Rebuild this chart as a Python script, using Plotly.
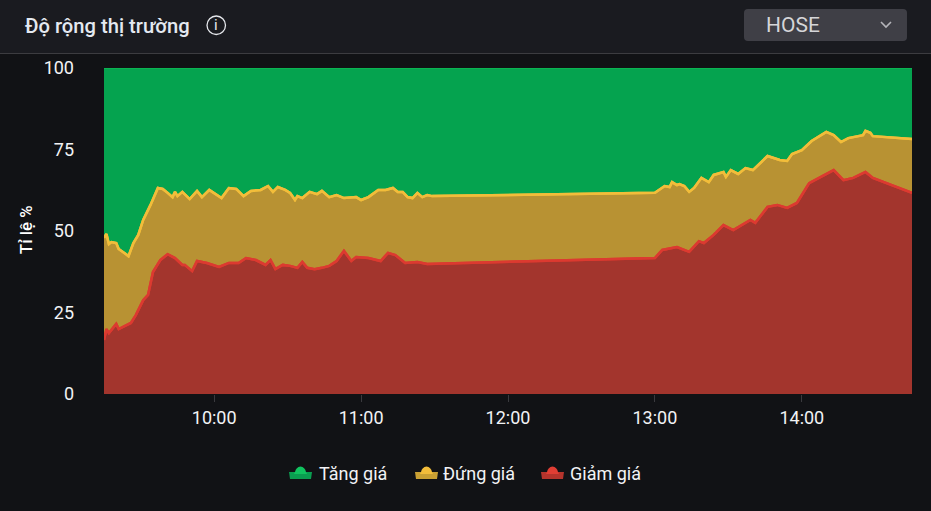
import plotly.graph_objects as go

DAY = "2024-01-02 "
giam_times = ["09:15","09:16","09:17","09:20","09:21","09:23","09:26","09:28","09:31","09:33","09:34","09:35","09:38","09:41","09:44","09:47","09:48","09:51","09:53","09:57","10:02","10:06","10:10","10:13","10:17","10:21","10:23","10:25","10:28","10:31","10:34","10:36","10:38","10:41","10:44","10:47","10:50","10:53","10:56","10:58","11:03","11:08","11:11","11:14","11:18","11:23","11:27","13:00","13:03","13:09","13:14","13:18","13:20","13:24","13:28","13:32","13:39","13:41","13:46","13:50","13:54","13:58","14:03","14:13","14:17","14:21","14:26","14:29","14:45"]
giam_values = [16.6,19.9,18.7,21.5,19.9,20.6,21.8,24.2,28.8,30.4,34.0,37.4,41.1,42.9,41.7,39.6,39.6,37.7,40.8,40.2,39.0,40.2,40.2,41.7,41.1,39.6,41.1,38.3,39.6,39.3,38.7,40.5,38.7,38.3,38.7,39.3,40.8,43.9,40.8,42.0,41.7,40.8,43.3,42.6,40.2,40.5,39.9,41.7,44.2,45.1,43.6,46.9,46.3,48.8,51.8,50.3,53.4,52.5,57.4,58.0,57.1,58.6,64.7,68.7,65.6,66.3,68.1,66.3,61.7]
dung_times = ["09:15","09:16","09:17","09:18","09:20","09:21","09:24","09:25","09:27","09:29","09:31","09:34","09:37","09:39","09:41","09:43","09:44","09:45","09:47","09:50","09:53","09:55","09:58","10:02","10:03","10:06","10:09","10:12","10:15","10:19","10:22","10:24","10:26","10:29","10:31","10:33","10:34","10:36","10:39","10:42","10:44","10:47","10:50","10:53","10:58","11:00","11:03","11:07","11:10","11:13","11:15","11:17","11:19","11:21","11:23","11:25","11:27","11:29","13:00","13:04","13:06","13:07","13:09","13:10","13:12","13:14","13:16","13:19","13:22","13:24","13:28","13:29","13:31","13:34","13:37","13:40","13:43","13:46","13:51","13:54","13:56","14:00","14:04","14:10","14:13","14:16","14:19","14:21","14:25","14:26","14:28","14:29","14:45"]
dung_cumulative = [47.9,49.1,46.0,46.6,46.3,44.5,42.9,42.3,46.3,48.8,53.4,58.0,63.2,62.9,61.7,60.4,62.0,60.7,62.0,59.8,62.3,60.4,62.6,60.7,60.1,63.2,62.9,60.7,62.3,62.6,63.8,62.0,63.5,62.6,61.7,59.5,60.7,60.1,62.0,61.3,62.3,60.4,61.0,60.1,60.4,59.5,60.4,62.6,62.6,63.2,62.0,62.0,60.4,60.1,61.7,60.4,61.0,60.7,61.7,63.8,63.5,65.0,64.1,64.4,63.8,62.0,63.2,66.3,65.0,67.2,68.1,66.6,68.7,67.5,69.3,68.7,70.9,73.0,71.8,71.5,73.6,74.8,77.6,80.4,79.4,77.3,78.5,78.8,79.4,80.7,80.1,79.1,78.2]
tang_times = ["09:15","14:45"]
tang_cumulative = [100,100]
legend_labels = ["Tăng giá","Đứng giá","Giảm giá"]
y_ticks = [0,25,50,75,100]

W,H = 931,511
L,R,T,B = 104,912,68,394
def px(x): return (x-L)/(R-L)
def py(y): return (B-y)/(B-T)
def P(x,y): return f"{px(x):.5f},{py(y):.5f}"

def dt(ts): return [DAY+t for t in ts]

fig = go.Figure()
font = "Roboto, sans-serif"
fig.add_trace(go.Scatter(x=dt(giam_times), y=giam_values, name=legend_labels[2], mode="lines",
    line=dict(color="#DC3A30", width=2.5), fill="tozeroy", fillcolor="#A3352D", cliponaxis=False))
fig.add_trace(go.Scatter(x=dt(dung_times), y=dung_cumulative, name=legend_labels[1], mode="lines",
    line=dict(color="#F2BD3A", width=2.5), fill="tonexty", fillcolor="#B89233", cliponaxis=False))
fig.add_trace(go.Scatter(x=dt(tang_times), y=tang_cumulative, name=legend_labels[0], mode="lines",
    line=dict(color="#0AB552", width=2), fill="tonexty", fillcolor="#05A34F", cliponaxis=False))
# redraw boundary lines above neighbouring fills
fig.add_trace(go.Scatter(x=dt(giam_times), y=giam_values, mode="lines", showlegend=False, hoverinfo="skip",
    line=dict(color="#DC3A30", width=2.5), cliponaxis=False))
fig.add_trace(go.Scatter(x=dt(dung_times), y=dung_cumulative, mode="lines", showlegend=False, hoverinfo="skip",
    line=dict(color="#F2BD3A", width=2.5), cliponaxis=False))

def rect(x0,y0,x1,y1,color,**kw):
    return dict(type="rect", xref="paper", yref="paper", x0=px(x0), x1=px(x1), y0=py(y1), y1=py(y0),
                fillcolor=color, line_width=0, layer="below", **kw)
def path(d,fill=None,stroke=None,w=0,layer="above"):
    return dict(type="path", xref="paper", yref="paper", path=d, fillcolor=fill or "rgba(0,0,0,0)",
                line=dict(color=stroke or "rgba(0,0,0,0)", width=w), layer=layer)

shapes = [rect(0,0,W,53,"#1A1B20"), rect(0,53,W,54,"#3C3C40")]
# dropdown
ax0,ax1,ay0,ay1,r = 744,907,9,41,4
shapes.append(path(f"M{P(ax0+r,ay0)} L{P(ax1-r,ay0)} Q{P(ax1,ay0)} {P(ax1,ay0+r)} L{P(ax1,ay1-r)} Q{P(ax1,ay1)} {P(ax1-r,ay1)} L{P(ax0+r,ay1)} Q{P(ax0,ay1)} {P(ax0,ay1-r)} L{P(ax0,ay0+r)} Q{P(ax0,ay0)} {P(ax0+r,ay0)} Z", fill="#3F3F46", layer="below"))
shapes.append(path(f"M{P(881,22)} L{P(886,27)} L{P(891,22)}", stroke="#B5B5BA", w=1.6))
# info icon
shapes.append(dict(type="circle", xref="paper", yref="paper", x0=px(207), x1=px(225.5), y0=py(34.5), y1=py(16),
                   line=dict(color="#E6E8EC", width=1.3), fillcolor="rgba(0,0,0,0)"))
# legend icons
def icon(x, base, light):
    sh = []
    sh.append(path(f"M{P(x+1,479)} L{P(x+22,479)} L{P(x+23,472)} L{P(x,472)} Z", fill=base))
    sh.append(path(f"M{P(x+6,472)} Q{P(x+7,467)} {P(x+11.5,466.5)} Q{P(x+16,467)} {P(x+17,472)} L{P(x+18,474)} L{P(x+5,474)} Z", fill=light))
    return sh
shapes += icon(289,"#0A9E50","#10C35F") + icon(415,"#C9A033","#F2BD3A") + icon(541,"#B5342C","#E03E34")

def ann(x,y,text,size,color="#F2F3F5",xanchor="left",weight=400,angle=0):
    return dict(xref="paper",yref="paper",x=px(x),y=py(y),text=text,showarrow=False,xanchor=xanchor,yanchor="middle",
                font=dict(family=font,size=size,color=color,weight=weight),textangle=angle,borderpad=0,borderwidth=0)
annotations = [
    ann(24.5,26.5,"Độ rộng thị trường",20.2,"#E4E9F0",weight=500),
    ann(216.3,25,"i",15,"#E6E8EC",xanchor="center"),
    ann(766,25.5,"HOSE",21,"#D5D5D8",weight=400),
    ann(26,230,"Tỉ lệ %",16.8,"#FFFFFF",xanchor="center",weight=500,angle=-90),
    ann(319,473,legend_labels[0],18),
    ann(443,473,legend_labels[1],18),
    ann(570,473,legend_labels[2],18),
]

fig.update_layout(
    width=W,height=H,autosize=False,
    margin=dict(l=L,r=W-R,t=T,b=H-B,pad=0),
    paper_bgcolor="#111215",plot_bgcolor="#111215",
    showlegend=False,shapes=shapes,annotations=annotations,
    font=dict(family=font,color="#F2F3F5",size=18),
    xaxis=dict(type="date",range=[DAY+"09:15",DAY+"14:45"],dtick=3600000,tick0=DAY+"10:00",tickformat="%H:%M",
               showgrid=False,zeroline=False,showline=False,ticks="outside",ticklen=7,tickwidth=1,tickcolor="#3A3A3E",
               tickfont=dict(family=font,size=18,color="#F2F3F5")),
    yaxis=dict(range=[0,100],tickvals=y_ticks,showgrid=False,zeroline=False,showline=False,ticks="",
               ticklabelstandoff=29,tickfont=dict(family=font,size=18,color="#F2F3F5",weight=400)),
)
fig.write_html("out.html",config=dict(displayModeBar=False),
               post_script="document.body.style.margin='0';document.body.style.background='#111215';")
